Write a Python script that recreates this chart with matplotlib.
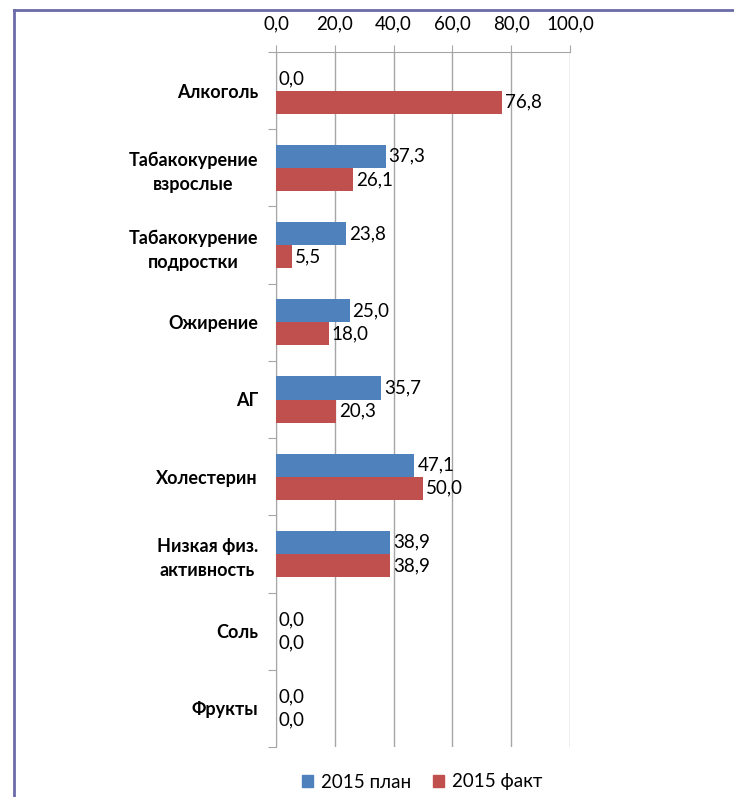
import numpy as np
import matplotlib.pyplot as plt
from matplotlib.lines import Line2D
from matplotlib.patches import Patch

plt.rcParams['font.family'] = ['Lato', 'DejaVu Sans']

categories = ['Алкоголь', 'Табакокурение\nвзрослые', 'Табакокурение\nподростки', 'Ожирение',
              'АГ', 'Холестерин', 'Низкая физ.\nактивность', 'Соль', 'Фрукты']
plan = [0.0, 37.3, 23.8, 25.0, 35.7, 47.1, 38.9, 0.0, 0.0]
fact = [76.8, 26.1, 5.5, 18.0, 20.3, 50.0, 38.9, 0.0, 0.0]
xticks = [0, 20, 40, 60, 80, 100]

blue = '#4F81BD'
red = '#C0504D'
grid_c = '#A6A6A6'

fig = plt.figure(figsize=(7.34, 7.97), dpi=100)
W, H = 734, 797
ax = fig.add_axes([276 / W, 1 - 747 / H, (570 - 276) / W, (747 - 52) / H])

y = np.arange(len(categories))
h = 0.30
ax.barh(y - h / 2, plan, height=h, color=blue, zorder=3)
ax.barh(y + h / 2, fact, height=h, color=red, zorder=3)

for i in range(len(categories)):
    ax.text(plan[i] + 1.0, y[i] - h / 2, f'{plan[i]:.1f}'.replace('.', ','),
            va='center', ha='left', fontsize=13.5, zorder=4)
    ax.text(fact[i] + 1.0, y[i] + h / 2, f'{fact[i]:.1f}'.replace('.', ','),
            va='center', ha='left', fontsize=13.5, zorder=4)

ax.set_xlim(0, 100)
ax.set_ylim(len(categories) - 0.5, -0.5)
ax.set_xticks(xticks)
ax.set_xticklabels([f'{v:.1f}'.replace('.', ',') for v in xticks], fontsize=13.5)
ax.xaxis.tick_top()
ax.tick_params(axis='x', length=5, color=grid_c, pad=9)
ax.grid(axis='x', color=grid_c, linewidth=1, zorder=0)

ax.set_yticks(np.arange(len(categories) + 1) - 0.5, minor=False)
ax.set_yticklabels([])
ax.tick_params(axis='y', which='major', length=6, color=grid_c)
ax.set_yticks(y, minor=True)
ax.set_yticklabels(categories, minor=True, fontsize=13, fontweight='bold', multialignment='center',
                   linespacing=1.5)
ax.tick_params(axis='y', which='minor', length=0, pad=13)

for s in ['right', 'bottom']:
    ax.spines[s].set_visible(False)
ax.spines['top'].set_color(grid_c)
ax.spines['left'].set_color(grid_c)

handles = [Patch(color=blue, label='2015 план'), Patch(color=red, label='2015 факт')]
fig.legend(handles=handles, loc='center', bbox_to_anchor=(422 / W, 1 - 782 / H), ncol=2,
           frameon=False, fontsize=13.5, handlelength=0.6, handleheight=0.6,
           handletextpad=0.4, columnspacing=1.2)

# outer chart frame
frame_c = '#6B6BA8'
fig.add_artist(Line2D([14 / W, 14 / W], [0, 1 - 10 / H], color=frame_c, lw=2, transform=fig.transFigure))
fig.add_artist(Line2D([14 / W, 1], [1 - 10 / H, 1 - 10 / H], color=frame_c, lw=2, transform=fig.transFigure))

fig.savefig('out.png', dpi=100)
